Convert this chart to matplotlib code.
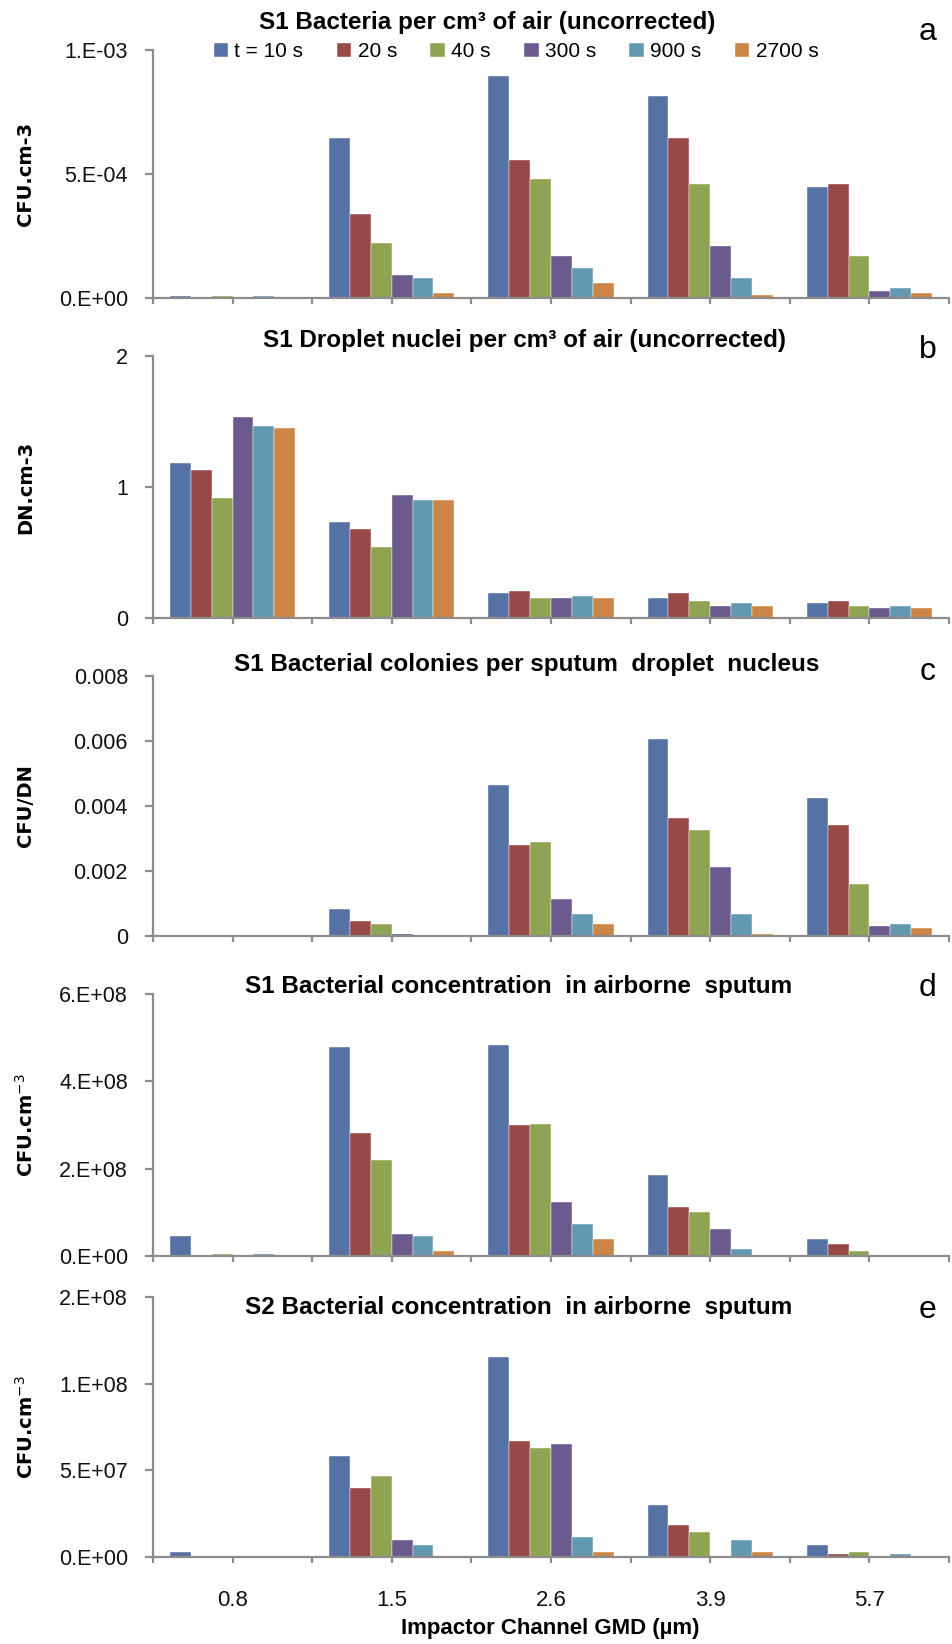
import matplotlib
matplotlib.use("Agg")
import matplotlib.pyplot as plt
import numpy as np

plt.rcParams['font.family'] = ['Liberation Sans', 'DejaVu Sans']

gmd_labels = ['0.8', '1.5', '2.6', '3.9', '5.7']
series_names = ['t = 10 s', '20 s', '40 s', '300 s', '900 s', '2700 s']
colors = ['#5672A4', '#984846', '#8FA453', '#6A5A8E', '#6299B1', '#CC8544']

# rows = series (10, 20, 40, 300, 900, 2700 s), columns = impactor channel
cfu_air = [
    [1.0e-5, 6.47e-4, 8.94e-4, 8.13e-4, 4.47e-4],
    [0, 3.38e-4, 5.56e-4, 6.47e-4, 4.59e-4],
    [1.0e-5, 2.20e-4, 4.78e-4, 4.58e-4, 1.69e-4],
    [0, 9.1e-5, 1.69e-4, 2.09e-4, 3.0e-5],
    [1.0e-5, 8.1e-5, 1.21e-4, 8.1e-5, 4.0e-5],
    [2e-6, 2.0e-5, 6.0e-5, 1.2e-5, 2.0e-5],
]
dn_air = [
    [1.18, 0.731, 0.188, 0.152, 0.112],
    [1.127, 0.678, 0.206, 0.188, 0.132],
    [0.919, 0.543, 0.152, 0.132, 0.094],
    [1.536, 0.939, 0.152, 0.094, 0.074],
    [1.462, 0.901, 0.170, 0.112, 0.094],
    [1.447, 0.901, 0.152, 0.094, 0.074],
]
cfu_per_dn = [
    [2e-5, 8.4e-4, 4.64e-3, 6.06e-3, 4.24e-3],
    [2e-5, 4.6e-4, 2.81e-3, 3.64e-3, 3.42e-3],
    [2e-5, 3.8e-4, 2.88e-3, 3.26e-3, 1.60e-3],
    [2e-5, 7e-5, 1.14e-3, 2.12e-3, 3.1e-4],
    [0, 1e-5, 6.9e-4, 6.9e-4, 3.8e-4],
    [0, 1e-5, 3.8e-4, 7e-5, 2.3e-4],
]
s1_sputum = [
    [4.6e7, 4.79e8, 4.84e8, 1.85e8, 4.0e7],
    [0, 2.81e8, 2.99e8, 1.13e8, 2.8e7],
    [5.3e6, 2.2e8, 3.03e8, 1.01e8, 1.1e7],
    [0, 5.1e7, 1.24e8, 6.25e7, 0],
    [5.3e6, 4.6e7, 7.3e7, 1.7e7, 0],
    [0, 1.1e7, 4.0e7, 0, 0],
]
s2_sputum = [
    [2.9e6, 5.85e7, 1.152e8, 2.98e7, 7.1e6],
    [0, 4.0e7, 6.69e7, 1.87e7, 1.5e6],
    [0, 4.69e7, 6.27e7, 1.42e7, 2.9e6],
    [0, 1.0e7, 6.54e7, 0, 0],
    [0, 7.1e6, 1.13e7, 1.0e7, 1.5e6],
    [0, 0, 2.9e6, 2.9e6, 0],
]

panels = [
    dict(data=cfu_air, title='S1 Bacteria per cm³ of air (uncorrected)', letter='a',
         ylabel='CFU.cm-3', yticks=[0, 5e-4, 1e-3], ylabels=['0.E+00', '5.E-04', '1.E-03'],
         box=(0.8187, 0.1509), tx=487, ty=22, ly=32),
    dict(data=dn_air, title='S1 Droplet nuclei per cm³ of air (uncorrected)', letter='b',
         ylabel='DN.cm-3', yticks=[0, 1, 2], ylabels=['0', '1', '2'],
         box=(0.6241, 0.1594), tx=525, ty=340, ly=350),
    dict(data=cfu_per_dn, title='S1 Bacterial colonies per sputum  droplet  nucleus', letter='c',
         ylabel='CFU/DN', yticks=[0, 0.002, 0.004, 0.006, 0.008],
         ylabels=['0', '0.002', '0.004', '0.006', '0.008'],
         box=(0.4307, 0.1581), tx=527, ty=665, ly=672),
    dict(data=s1_sputum, title='S1 Bacterial concentration  in airborne  sputum', letter='d',
         ylabel='CFU.cm$^{-3}$', yticks=[0, 2e8, 4e8, 6e8],
         ylabels=['0.E+00', '2.E+08', '4.E+08', '6.E+08'],
         box=(0.2360, 0.1594), tx=519, ty=986, ly=988),
    dict(data=s2_sputum, title='S2 Bacterial concentration  in airborne  sputum', letter='e',
         ylabel='CFU.cm$^{-3}$', yticks=[0, 5e7, 1e8, 1.5e8],
         ylabels=['0.E+00', '5.E+07', '1.E+08', '2.E+08'],
         box=(0.0529, 0.1582), tx=519, ty=1307, ly=1310),
]

W, H = 953, 1644
fig = plt.figure(figsize=(W / 100, H / 100), dpi=100)
x = np.arange(len(gmd_labels))
bw = 0.131
spine_col = '#8C8C8C'

for p in panels:
    ax = fig.add_axes([0.1605, p['box'][0], 0.8353, p['box'][1]])
    for i, vals in enumerate(p['data']):
        ax.bar(x + (i - 2.5) * bw, vals, bw, color=colors[i], label=series_names[i],
               edgecolor='white', linewidth=0.3)
    ax.set_xlim(-0.5, 4.5)
    ax.set_ylim(0, p['yticks'][-1])
    ax.set_yticks(p['yticks'])
    ax.set_yticklabels(p['ylabels'])
    ax.set_xticks(x)
    ax.set_xticks(np.arange(-0.5, 4.51, 1.0), minor=True)
    if p['letter'] == 'e':
        ax.set_xticklabels(gmd_labels)
    else:
        ax.set_xticklabels([])
    for s in ['top', 'right']:
        ax.spines[s].set_visible(False)
    for s in ['left', 'bottom']:
        ax.spines[s].set_color(spine_col)
        ax.spines[s].set_linewidth(1.6)
    ax.tick_params(axis='y', direction='out', length=6, width=1.6, color=spine_col,
                   labelsize=15.5, pad=12, labelcolor='#111111')
    ax.tick_params(axis='x', which='both', direction='out', length=4, width=1.6,
                   color=spine_col, labelsize=16, pad=20, labelcolor='#111111')
    fig.text(26 / W, (p['box'][0] + p['box'][1] / 2), p['ylabel'], rotation=90,
             ha='center', va='center', fontsize=14, fontweight='bold', family='DejaVu Sans')
    fig.text(p['tx'] / W, 1 - p['ty'] / H, p['title'], ha='center', va='center',
             fontsize=17.5, fontweight='bold')
    fig.text(928 / W, 1 - p['ly'] / H, p['letter'], ha='center', va='center', fontsize=23)
    if p['letter'] == 'a':
        ax.legend(loc='center', bbox_to_anchor=(0.456, 0.992), ncol=6, frameon=False,
                  fontsize=15, handlelength=0.7, handleheight=0.7, handletextpad=0.3,
                  columnspacing=1.6, borderaxespad=0)

fig.text(550 / W, 1 - 1628 / H, 'Impactor Channel GMD (µm)', ha='center', va='center',
         fontsize=16, fontweight='bold')

fig.savefig('out.png', dpi=100)
